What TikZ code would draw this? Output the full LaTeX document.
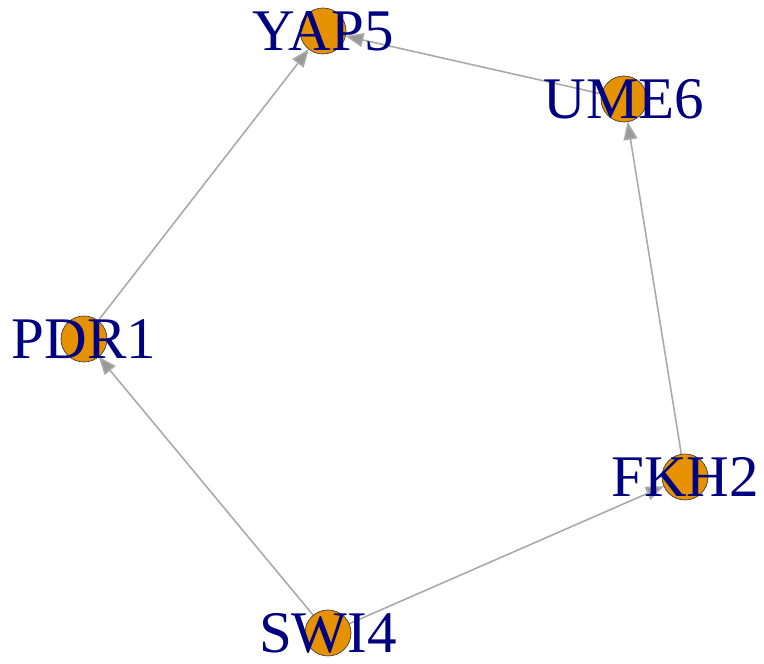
\documentclass[tikz,border=0pt]{standalone}
\usepackage{fontspec}
\setmainfont{Liberation Serif}
\usetikzlibrary{arrows.meta,backgrounds}
\definecolor{vfill}{RGB}{230,145,0}
\definecolor{lab}{RGB}{0,0,128}
\definecolor{edgec}{RGB}{170,170,170}
\tikzset{
  vtx/.style={circle,draw=black!75,line width=0.7pt,fill=vfill,minimum size=46pt,inner sep=0pt,outer sep=0pt},
  lbl/.style={text=lab,font=\fontsize{59}{59}\selectfont,inner sep=0pt,text height=39pt,text depth=0pt},
  edge/.style={draw=edgec,line width=1.6pt,-{Triangle[length=18pt,width=14pt,fill=edgec!90!black]}}
}
\begin{document}
\begin{tikzpicture}[x=1pt,y=1pt]
\useasboundingbox (0,0) rectangle (764,664);
\node[vtx] (yap5) at (323,633) {};
\node[vtx] (ume6) at (624,565) {};
\node[vtx] (pdr1) at (84,325) {};
\node[vtx] (fkh2) at (685,187) {};
\node[vtx] (swi4) at (328,31) {};
\node[lbl] (lyap5) at (yap5) {YAP5};
\node[lbl] (lume6) at (ume6) {UME6};
\node[lbl] (lpdr1) at (pdr1) {PDR1};
\node[lbl] (lfkh2) at (fkh2) {FKH2};
\node[lbl] (lswi4) at (swi4) {SWI4};
\begin{scope}[on background layer]
\draw[edge] (swi4) -- (pdr1);
\draw[edge] (swi4) -- (fkh2);
\draw[edge] (fkh2) -- (ume6);
\draw[edge] (ume6) -- (yap5);
\draw[edge] (pdr1) -- (yap5);
\end{scope}
\end{tikzpicture}
\end{document}
